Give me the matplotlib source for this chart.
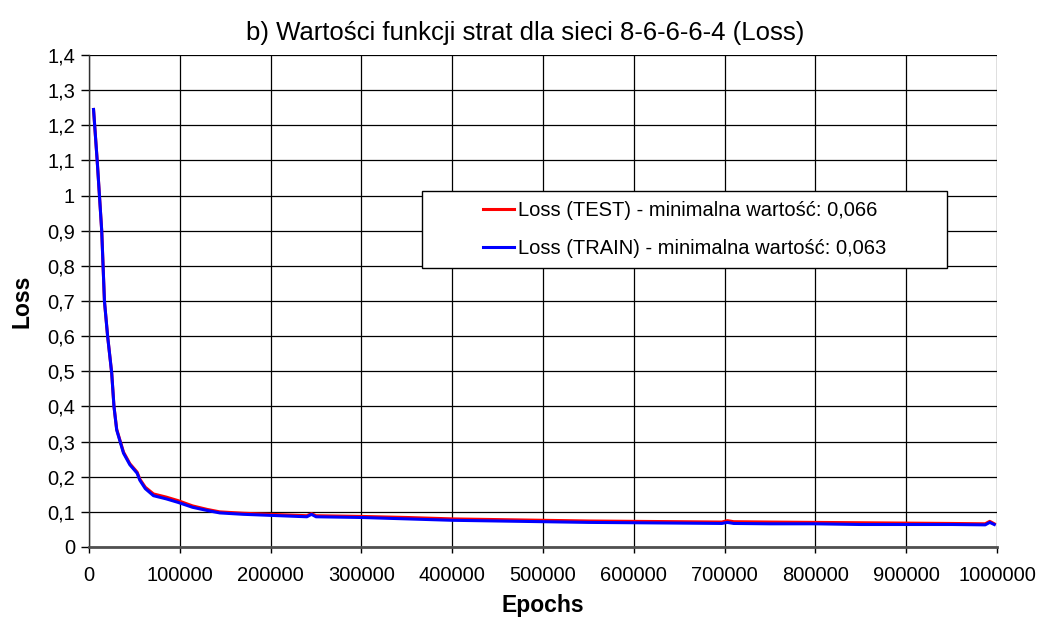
import matplotlib
matplotlib.use("Agg")
import matplotlib.pyplot as plt
from matplotlib.patches import Rectangle
from matplotlib.ticker import FuncFormatter, MultipleLocator

plt.rcParams["font.family"] = ["Liberation Sans", "DejaVu Sans"]

# Training history (epochs and loss values)
epochs = [5000, 9000, 14000, 17000, 20500, 25000, 27500, 30500, 38000, 45000,
          53000, 56000, 62000, 71000, 85000, 98000, 114000, 130000, 144000, 170000,
          200000, 230000, 240000, 245000, 250000, 300000, 350000, 400000, 450000, 500000,
          550000, 600000, 650000, 697000, 703000, 710000, 750000, 800000, 850000, 900000,
          950000, 987000, 992000, 997000]

loss_test = [1.245, 1.10, 0.90, 0.70, 0.60, 0.495, 0.40, 0.335, 0.27, 0.237,
             0.213, 0.193, 0.170, 0.151, 0.142, 0.132, 0.117, 0.107, 0.100, 0.096,
             0.093, 0.090, 0.089, 0.095, 0.089, 0.087, 0.084, 0.080, 0.078, 0.076,
             0.074, 0.073, 0.072, 0.071, 0.075, 0.072, 0.071, 0.070, 0.069, 0.068,
             0.067, 0.066, 0.073, 0.066]

loss_train = [1.245, 1.10, 0.90, 0.70, 0.60, 0.495, 0.40, 0.333, 0.267, 0.234,
              0.210, 0.190, 0.166, 0.146, 0.137, 0.127, 0.113, 0.104, 0.097, 0.093,
              0.090, 0.087, 0.086, 0.093, 0.086, 0.084, 0.080, 0.076, 0.074, 0.072,
              0.070, 0.069, 0.068, 0.067, 0.070, 0.067, 0.066, 0.066, 0.064, 0.064,
              0.064, 0.063, 0.070, 0.064]

label_test = "Loss (TEST) - minimalna wartość: 0,066"
label_train = "Loss (TRAIN) - minimalna wartość: 0,063"
title = "b) Wartości funkcji strat dla sieci 8-6-6-6-4 (Loss)"

FS = 14.5

W, H = 1042, 620
fig = plt.figure(figsize=(W / 100, H / 100), dpi=100)
ax = fig.add_axes([89 / W, 1 - 547 / H, (997 - 89) / W, (547 - 55) / H])

ax.plot(epochs, loss_test, color="#ff0000", lw=2.2, label=label_test, zorder=3)
ax.plot(epochs, loss_train, color="#0000ff", lw=2.2, label=label_train, zorder=4)

ax.set_xlim(0, 1000000)
ax.set_ylim(0, 1.4)
ax.xaxis.set_major_locator(MultipleLocator(100000))
ax.yaxis.set_major_locator(MultipleLocator(0.1))
ax.xaxis.set_major_formatter(FuncFormatter(lambda v, p: f"{int(round(v))}"))
ax.yaxis.set_major_formatter(FuncFormatter(lambda v, p: f"{round(v, 1):g}".replace(".", ",")))

ax.grid(True, color="black", lw=0.9)
ax.set_axisbelow(True)
for s in ("top", "right"):
    ax.spines[s].set_visible(False)
ax.spines["left"].set_color("#303030")
ax.spines["left"].set_linewidth(1.0)
ax.spines["bottom"].set_color("#505050")
ax.spines["bottom"].set_linewidth(2.0)

ax.tick_params(axis="y", direction="out", length=6, width=1, pad=4, labelsize=FS)
ax.tick_params(axis="x", direction="out", length=4, width=1, pad=10, labelsize=FS)

ax.set_xlabel("Epochs", fontsize=16.5, fontweight="bold", labelpad=6)
ax.set_ylabel("Loss", fontsize=16.5, fontweight="bold", labelpad=10)
fig.text(0.504, 1 - 33 / H, title, ha="center", va="center", fontsize=18.5)

# Legend frame in pixel-derived axes fractions, entries centred inside it
bx0, bx1, by0, by1 = 422, 947, 191, 268
fx = lambda px: (px - 89) / (997 - 89)
fy = lambda py: (547 - py) / (547 - 55)
ax.add_patch(Rectangle((fx(bx0), fy(by1)), fx(bx1) - fx(bx0), fy(by0) - fy(by1),
                       transform=ax.transAxes, facecolor="white", edgecolor="black",
                       lw=1.0, zorder=5))
leg = ax.legend(loc="center", bbox_to_anchor=((fx(bx0) + fx(bx1)) / 2, (fy(by0) + fy(by1)) / 2),
                fontsize=FS, frameon=False, handlelength=1.55, handletextpad=0.2,
                borderaxespad=0, labelspacing=0.9, borderpad=0)
leg.set_zorder(6)

fig.savefig("out.png", dpi=100)
